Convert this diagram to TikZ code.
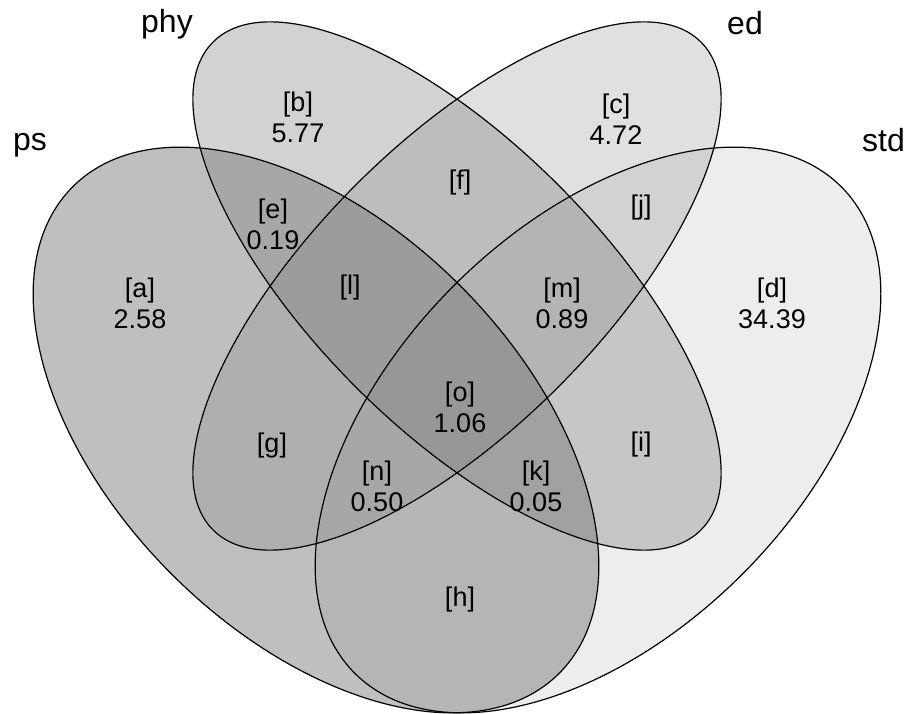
\documentclass[tikz,border=0pt]{standalone}
\usepackage{fontspec}
\setmainfont{Liberation Sans}
\definecolor{vfill}{gray}{0.47}
\begin{document}
\begin{tikzpicture}[x=1pt,y=1pt,
  setline/.style={draw=black,line width=1.2pt},
  setfill/.style={fill=vfill},
  reglabel/.style={align=center,font=\fontsize{27}{31}\selectfont,inner sep=0pt},
  setname/.style={font=\fontsize{32}{36}\selectfont,inner sep=0pt,anchor=base}]
\useasboundingbox (0,0) rectangle (908,713);
% fills
\fill[setfill,fill opacity=0.474] (316,283) ellipse[x radius=344,y radius=204,rotate=-45];
\fill[setfill,fill opacity=0.133] (598,283) ellipse[x radius=344,y radius=204,rotate=45];
\fill[setfill,fill opacity=0.333] (457,427) ellipse[x radius=345,y radius=143,rotate=-45];
\fill[setfill,fill opacity=0.23] (457,427) ellipse[x radius=345,y radius=143,rotate=45];
% outlines
\draw[setline] (316,283) ellipse[x radius=344,y radius=204,rotate=-45];
\draw[setline] (598,283) ellipse[x radius=344,y radius=204,rotate=45];
\draw[setline] (457,427) ellipse[x radius=345,y radius=143,rotate=-45];
\draw[setline] (457,427) ellipse[x radius=345,y radius=143,rotate=45];
% set names
\node[setname] (nps)  at (30,562)  {ps};
\node[setname] (nphy) at (167,680) {phy};
\node[setname] (ned)  at (745,678) {ed};
\node[setname,anchor=base west] (nstd) at (862,561) {std};
% region labels
\node[reglabel] (ra) at (140,410) {[a]\\2.58};
\node[reglabel] (rb) at (298,596) {[b]\\5.77};
\node[reglabel] (rc) at (616,594) {[c]\\4.72};
\node[reglabel] (rd) at (772,410) {[d]\\34.39};
\node[reglabel] (re) at (273,489) {[e]\\0.19};
\node[reglabel] (rf) at (460,530) {[f]};
\node[reglabel] (rg) at (272,267) {[g]};
\node[reglabel] (rh) at (460,113) {[h]};
\node[reglabel] (ri) at (641,268) {[i]};
\node[reglabel] (rj) at (641,505) {[j]};
\node[reglabel] (rk) at (536,227) {[k]\\0.05};
\node[reglabel] (rl) at (350,425) {[l]};
\node[reglabel] (rm) at (562,410) {[m]\\0.89};
\node[reglabel] (rn) at (377,227) {[n]\\0.50};
\node[reglabel] (ro) at (460,306) {[o]\\1.06};
\end{tikzpicture}
\end{document}
